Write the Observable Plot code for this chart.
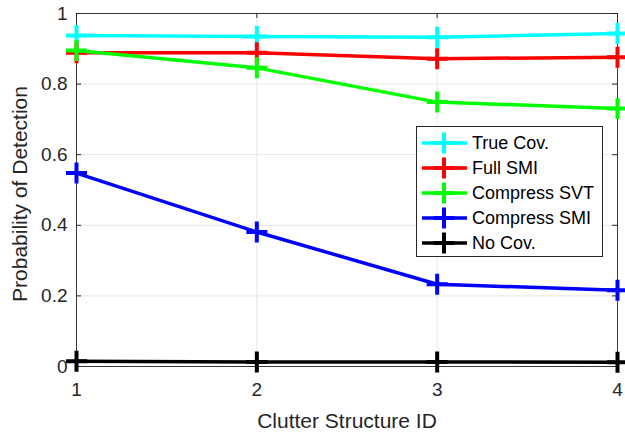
<!DOCTYPE html>
<html>
<head>
<meta charset="utf-8">
<script src="https://cdn.jsdelivr.net/npm/d3@7"></script>
<script src="https://cdn.jsdelivr.net/npm/@observablehq/plot@0.6"></script>
<style>
  html, body { margin: 0; padding: 0; background: #fff; }
  #chart { position: relative; width: 625px; height: 433px; }
  svg { font-family: "Liberation Sans", Arial, Helvetica, sans-serif; }
</style>
</head>
<body>
<div id="chart"></div>
<script>
// Detection probability per clutter structure for each covariance estimator
const clutterIds = [1, 2, 3, 4];
const methods = ["True Cov.", "Full SMI", "Compress SVT", "Compress SMI", "No Cov."];
const colors = ["#00ffff", "#ff0000", "#00ff00", "#0000ff", "#000000"];
const trueCov     = [0.938, 0.935, 0.933, 0.943];
const fullSmi     = [0.889, 0.889, 0.872, 0.876];
const compressSvt = [0.895, 0.846, 0.749, 0.731];
const compressSmi = [0.548, 0.381, 0.233, 0.216];
const noCov       = [0.015, 0.013, 0.013, 0.012];
const xTicks = [1, 2, 3, 4];
const yTicks = [0, 0.2, 0.4, 0.6, 0.8, 1];
const xLabel = "Clutter Structure ID";
const yLabel = "Probability of Detection";

const seriesValues = [trueCov, fullSmi, compressSvt, compressSmi, noCov];
const series = methods.map((name, i) => ({
  name,
  color: colors[i],
  rows: clutterIds.map((id, j) => ({ id, pd: seriesValues[i][j], name }))
}));

// "+" marker drawn as two strokes
const plusSymbol = {
  draw(ctx, size) {
    const r = Math.sqrt(size / Math.PI);
    ctx.moveTo(-r, 0); ctx.lineTo(r, 0);
    ctx.moveTo(0, -r); ctx.lineTo(0, r);
  }
};

const W = 625, H = 433;
const mTop = 13, mBottom = 67, mLeft = 76, mRight = 8;
const innerH = H - mTop - mBottom;
const innerW = W - mLeft - mRight;
const axisColor = "#262626";
const gridColor = "#e6e6e6";
const tickLen = 5;
const lineW = 3.5;

const marks = [
  Plot.gridX(xTicks, { stroke: gridColor, strokeOpacity: 1 }),
  Plot.gridY(yTicks, { stroke: gridColor, strokeOpacity: 1 }),
  // inward ticks on all four sides
  Plot.ruleX(xTicks, { stroke: axisColor, insetTop: innerH - tickLen }),
  Plot.ruleX(xTicks, { stroke: axisColor, insetBottom: innerH - tickLen }),
  Plot.ruleY(yTicks, { stroke: axisColor, insetRight: innerW - tickLen }),
  Plot.ruleY(yTicks, { stroke: axisColor, insetLeft: innerW - tickLen }),
  Plot.frame({ stroke: axisColor, strokeWidth: 0.9 }),
  Plot.axisX(xTicks, { tickSize: 0, tickPadding: 16, fontSize: 19, fill: axisColor, tickFormat: d => String(d), label: null }),
  Plot.axisY(yTicks, { tickSize: 0, tickPadding: 9, fontSize: 19, fill: axisColor, tickFormat: d => String(d), label: null }),
  Plot.text([xLabel], { text: d => d, frameAnchor: "bottom", textAnchor: "middle", dy: 55, lineAnchor: "middle", fontSize: 21, fill: axisColor }),
  Plot.text([yLabel], { text: d => d, frameAnchor: "left", textAnchor: "middle", dx: -56, dy: 4, rotate: -90, lineAnchor: "middle", fontSize: 21, fill: axisColor })
];

for (const s of series) {
  marks.push(Plot.line(s.rows, { x: "id", y: "pd", stroke: s.color, strokeWidth: lineW }));
  marks.push(Plot.dot(s.rows, { x: "id", y: "pd", stroke: s.color, fill: "none", symbol: plusSymbol, r: 10.5, strokeWidth: 4, strokeLinecap: "butt" }));
}

const chart = Plot.plot({
  width: W,
  height: H,
  marginTop: mTop,
  marginBottom: mBottom,
  marginLeft: mLeft,
  marginRight: mRight,
  x: { domain: [1, 4], label: null },
  y: { domain: [0, 1], label: null },
  style: { fontFamily: "'Liberation Sans', Arial, Helvetica, sans-serif", background: "#fff" },
  marks
});

// Legend box inside the axes
const svg = d3.select(chart);
const lg = svg.append("g").attr("transform", "translate(416,126)");
lg.append("rect")
  .attr("x", 0.5).attr("y", 0.5)
  .attr("width", 186).attr("height", 130)
  .attr("fill", "#fff").attr("stroke", axisColor).attr("stroke-width", 1);
series.forEach((s, i) => {
  const cy = 17 + i * 25;
  const row = lg.append("g").attr("transform", `translate(0,${cy})`);
  row.append("line").attr("x1", 6).attr("x2", 51).attr("y1", 0).attr("y2", 0)
    .attr("stroke", s.color).attr("stroke-width", lineW);
  row.append("path").attr("d", "M17.5,0H38.5M28,-10.5V10.5")
    .attr("stroke", s.color).attr("stroke-width", 4).attr("fill", "none");
  row.append("text").attr("x", 56).attr("y", 0).attr("dy", "0.35em")
    .attr("text-anchor", "start")
    .attr("font-size", 18).attr("fill", "#000").text(s.name);
});

document.getElementById("chart").appendChild(chart);
</script>
</body>
</html>
